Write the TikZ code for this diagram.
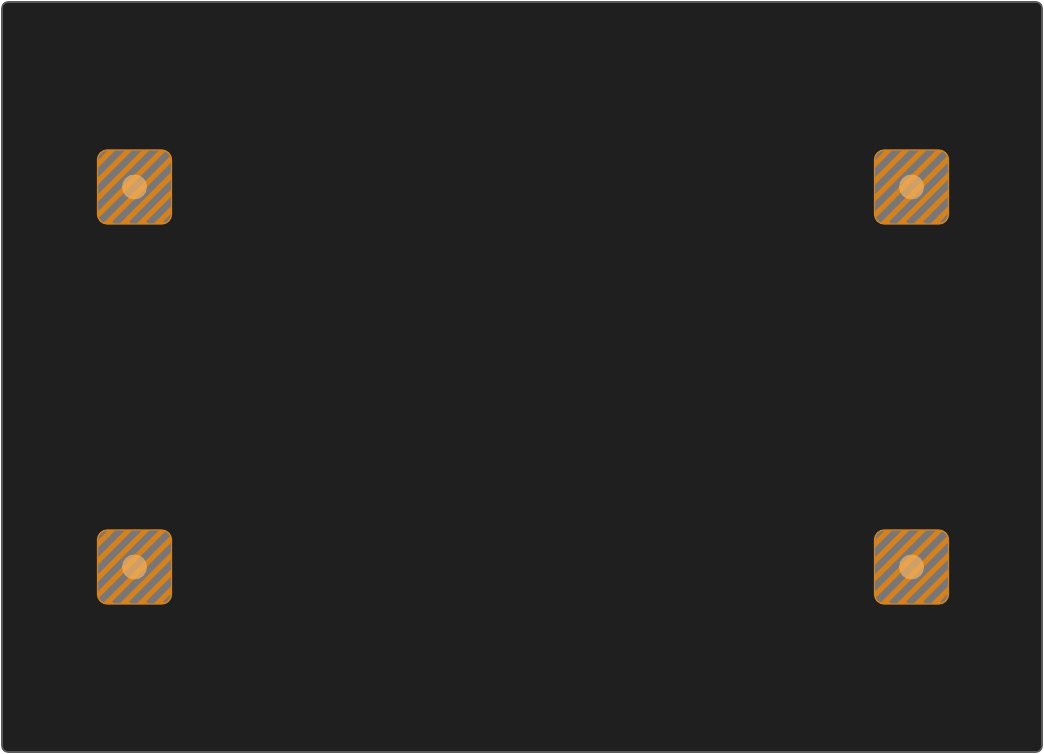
\documentclass[tikz,border=0pt]{standalone}
\usepackage{tikz}
\definecolor{boardbg}{HTML}{1F1F1F}
\definecolor{boardedge}{HTML}{5A5A5A}
\definecolor{padorange}{HTML}{D4821F}
\definecolor{padgray}{HTML}{7A7676}
\definecolor{holelight}{HTML}{F7B460}

\begin{document}
\begin{tikzpicture}[x=1pt,y=1pt]
  \tikzset{board style/.style = {draw=boardedge, line width=1.6pt, fill=boardbg, rounded corners=6pt},
    pad style/.style = {draw=padorange, line width=1.4pt, fill=padorange, rounded corners=10pt,
      minimum size=74pt, inner sep=0pt,
      path picture={\foreach \k in {-6,...,6}
        \draw[padgray, line width=6.5pt]
          ([xshift=\k*17pt]path picture bounding box.south west) -- ++(90pt,90pt);}},
    hole style/.style = {circle, fill=holelight, fill opacity=0.68, minimum size=25pt, inner sep=0pt}}
  \useasboundingbox (0,0) rectangle (1044,754);
  \draw[board style] (2,2) rectangle (1042,752);
  % mounting pads
  \node[pad style] (padtl) at (134.5,567) {};
  \node[pad style] (padtr) at (911.5,567) {};
  \node[pad style] (padbl) at (134.5,187) {};
  \node[pad style] (padbr) at (911.5,187) {};
  \foreach \p in {padtl,padtr,padbl,padbr}
    \node[hole style] (hole-\p) at (\p.center) {};
\end{tikzpicture}
\end{document}
